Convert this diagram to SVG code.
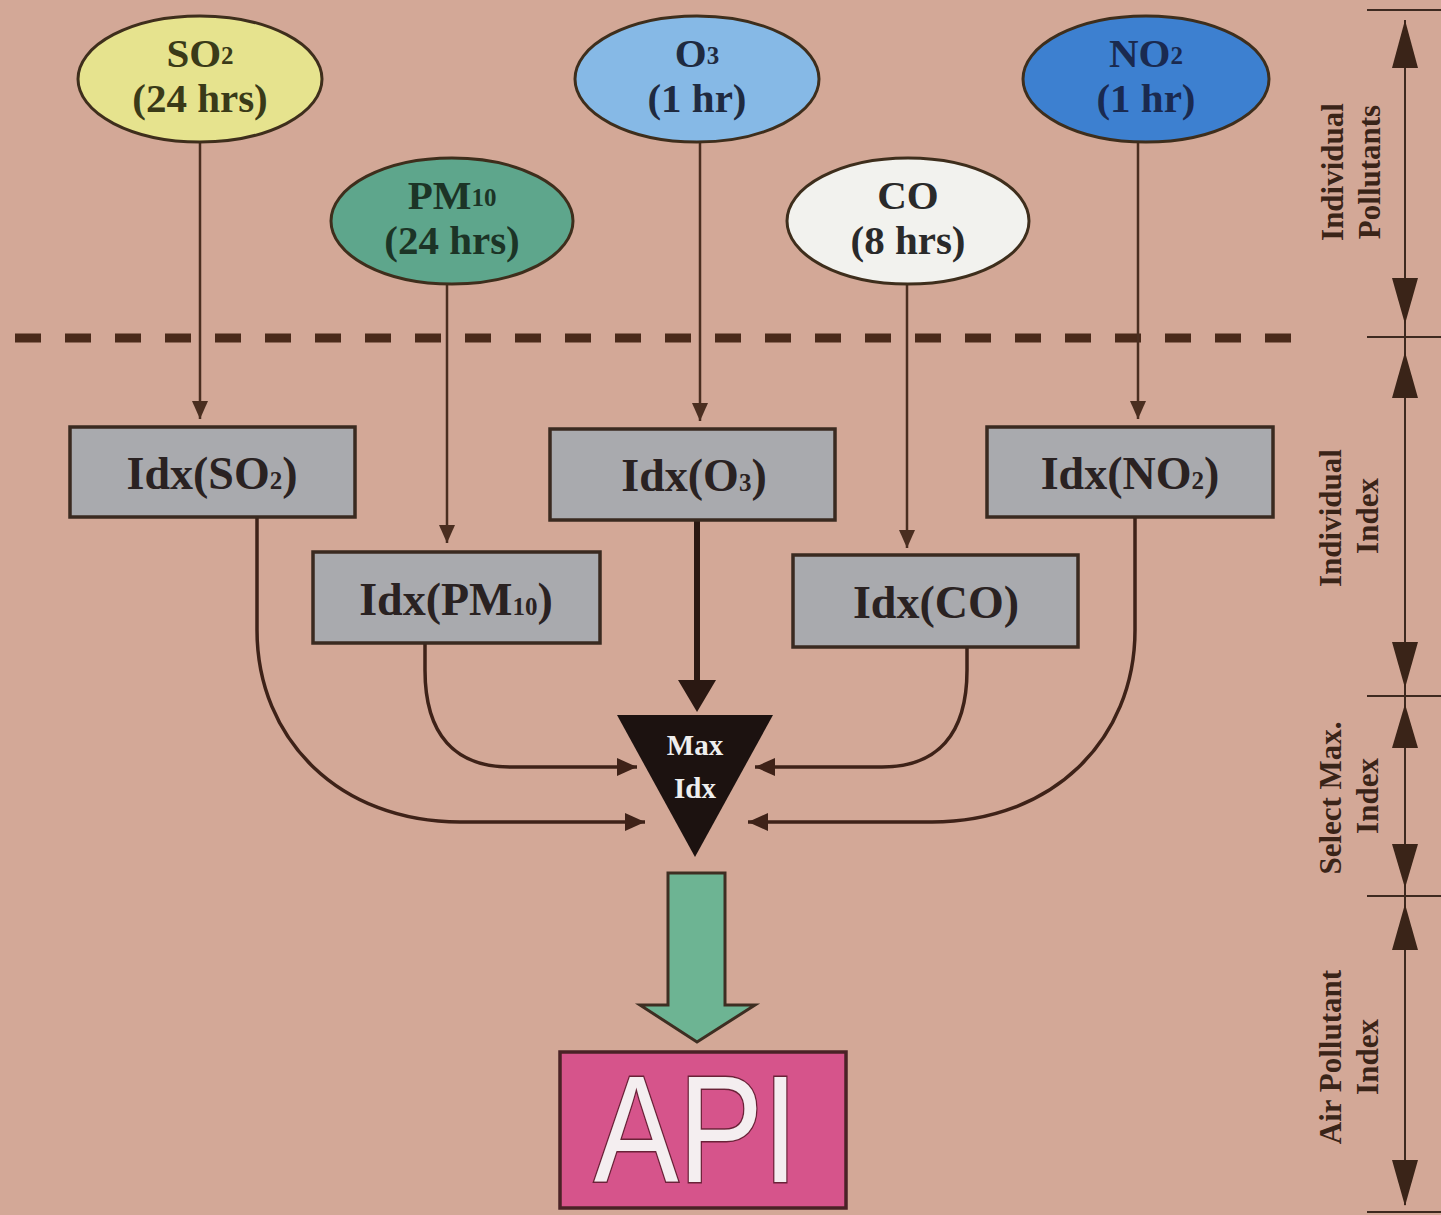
<svg xmlns="http://www.w3.org/2000/svg" width="1441" height="1215" viewBox="0 0 1441 1215">
<defs>
<style>
.bg{fill:#d3a897}
.ell{stroke:#3e2e1c;stroke-width:3}
.etxt{font-family:"Liberation Serif","Times New Roman",serif;font-weight:bold;font-size:41px;text-anchor:middle}
.box{fill:#a9aaae;stroke:#3a2a20;stroke-width:3.5}
.btxt{font-family:"Liberation Serif","Times New Roman",serif;font-weight:bold;font-size:46px;text-anchor:middle;fill:#2a2222}
.sub{font-size:25px}
.thin{fill:none;stroke:#4a2e20;stroke-width:2.5}
.curve{fill:none;stroke:#3e2218;stroke-width:3.5}
.lab{font-family:"Liberation Serif","Times New Roman",serif;font-weight:bold;font-size:31px;text-anchor:middle;fill:#3a2418}
.scale{stroke:#3e2a20;stroke-width:2;fill:none}
.head{fill:#3a2418}
</style>
<marker id="arr" markerUnits="userSpaceOnUse" markerWidth="18" markerHeight="18" refX="18" refY="8" orient="auto">
<path d="M0,0 L18,8 L0,16 z" fill="#4a2e20"/>
</marker>
<marker id="arrc" markerUnits="userSpaceOnUse" markerWidth="22" markerHeight="20" refX="20" refY="9" orient="auto">
<path d="M0,0 L20,9 L0,18 z" fill="#3e2218"/>
</marker>
</defs>
<rect class="bg" x="0" y="0" width="1441" height="1215"/>

<g id="divider">
<line x1="15" y1="338" x2="1292" y2="338" stroke="#4a2a1a" stroke-width="9" stroke-dasharray="26 24"/>
</g>

<g id="connectors">
<line class="thin" x1="200" y1="142" x2="200" y2="419" marker-end="url(#arr)"/>
<line class="thin" x1="447" y1="285" x2="447" y2="543" marker-end="url(#arr)"/>
<line class="thin" x1="700" y1="142" x2="700" y2="421" marker-end="url(#arr)"/>
<line class="thin" x1="907" y1="285" x2="907" y2="548" marker-end="url(#arr)"/>
<line class="thin" x1="1138" y1="142" x2="1138" y2="419" marker-end="url(#arr)"/>
<line x1="697" y1="520" x2="697" y2="684" stroke="#2a1812" stroke-width="6"/>
<polygon points="678,680 716,680 697,712" fill="#2a1812"/>
<path class="curve" d="M257,517 V630 C257,740 340,822 460,822 H645" marker-end="url(#arrc)"/>
<path class="curve" d="M425,643 V670 C425,735 455,767 510,767 H637" marker-end="url(#arrc)"/>
<path class="curve" d="M967,647 V670 C967,735 937,767 882,767 H755" marker-end="url(#arrc)"/>
<path class="curve" d="M1135,517 V630 C1135,740 1052,822 932,822 H748" marker-end="url(#arrc)"/>
</g>

<g id="so2">
<ellipse class="ell" cx="200" cy="79" rx="122" ry="63" fill="#e6e38e"/>
<text class="etxt" fill="#3a3a18" x="200" y="67">SO<tspan class="sub" dy="-3">2</tspan></text>
<text class="etxt" fill="#3a3a18" x="200" y="112">(24 hrs)</text>
</g>
<g id="pm10">
<ellipse class="ell" cx="452" cy="221" rx="121" ry="63" fill="#5ea68c"/>
<text class="etxt" fill="#1c3426" x="452" y="209">PM<tspan class="sub" dy="-3">10</tspan></text>
<text class="etxt" fill="#1c3426" x="452" y="254">(24 hrs)</text>
</g>
<g id="o3">
<ellipse class="ell" cx="697" cy="79" rx="122" ry="63" fill="#86b9e6"/>
<text class="etxt" fill="#1f2a40" x="697" y="67">O<tspan class="sub" dy="-3">3</tspan></text>
<text class="etxt" fill="#1f2a40" x="697" y="112">(1 hr)</text>
</g>
<g id="co">
<ellipse class="ell" cx="908" cy="221" rx="121" ry="63" fill="#f2f2ee"/>
<text class="etxt" fill="#2a2a2a" x="908" y="209">CO</text>
<text class="etxt" fill="#2a2a2a" x="908" y="254">(8 hrs)</text>
</g>
<g id="no2">
<ellipse class="ell" cx="1146" cy="79" rx="123" ry="63" fill="#3d80d0"/>
<text class="etxt" fill="#1a2a50" x="1146" y="67">NO<tspan class="sub" dy="-3">2</tspan></text>
<text class="etxt" fill="#1a2a50" x="1146" y="112">(1 hr)</text>
</g>

<g id="idx-so2">
<rect class="box" x="70" y="427" width="285" height="90"/>
<text class="btxt" x="212" y="489">Idx(SO<tspan class="sub">2</tspan>)</text>
</g>
<g id="idx-pm10">
<rect class="box" x="313" y="552" width="287" height="91"/>
<text class="btxt" x="456" y="615">Idx(PM<tspan class="sub">10</tspan>)</text>
</g>
<g id="idx-o3">
<rect class="box" x="550" y="429" width="285" height="91"/>
<text class="btxt" x="694" y="491">Idx(O<tspan class="sub">3</tspan>)</text>
</g>
<g id="idx-co">
<rect class="box" x="793" y="555" width="285" height="92"/>
<text class="btxt" x="936" y="618">Idx(CO)</text>
</g>
<g id="idx-no2">
<rect class="box" x="987" y="427" width="286" height="90"/>
<text class="btxt" x="1130" y="489">Idx(NO<tspan class="sub">2</tspan>)</text>
</g>

<g id="max-idx">
<polygon points="617,715 773,715 695,857" fill="#1c1210"/>
<text x="695" y="755" font-family="Liberation Serif, serif" font-weight="bold" font-size="29" fill="#eeeeee" text-anchor="middle">Max</text>
<text x="695" y="798" font-family="Liberation Serif, serif" font-weight="bold" font-size="29" fill="#eeeeee" text-anchor="middle">Idx</text>
</g>

<g id="big-arrow">
<polygon points="668,873 725,873 725,1005 755,1005 697,1042 640,1005 668,1005" fill="#6db493" stroke="#3e2e22" stroke-width="3" stroke-linejoin="miter"/>
</g>

<g id="api">
<rect x="560" y="1052" width="286" height="156" fill="#d6548b" stroke="#4a2226" stroke-width="3.5"/>
<text x="594" y="1182" font-family="Liberation Sans, Arial, sans-serif" font-size="152" fill="#f4eef0" stroke="#6a2238" stroke-width="3" paint-order="stroke" textLength="204" lengthAdjust="spacingAndGlyphs">API</text>
</g>

<g id="scale">
<line class="scale" x1="1367" y1="10" x2="1441" y2="10"/>
<line class="scale" x1="1367" y1="337" x2="1441" y2="337"/>
<line class="scale" x1="1367" y1="696" x2="1441" y2="696"/>
<line class="scale" x1="1367" y1="896" x2="1441" y2="896"/>
<line class="scale" x1="1367" y1="1212" x2="1441" y2="1212"/>
<line class="scale" x1="1405" y1="20" x2="1405" y2="1205"/>
<polygon class="head" points="1405,20 1418,68 1392,68"/>
<polygon class="head" points="1405,324 1418,278 1392,278"/>
<polygon class="head" points="1405,352 1418,398 1392,398"/>
<polygon class="head" points="1405,688 1418,642 1392,642"/>
<polygon class="head" points="1405,704 1418,748 1392,748"/>
<polygon class="head" points="1405,888 1418,844 1392,844"/>
<polygon class="head" points="1405,904 1418,950 1392,950"/>
<polygon class="head" points="1405,1206 1418,1160 1392,1160"/>
<text class="lab" transform="translate(1343,172) rotate(-90)">Individual</text>
<text class="lab" transform="translate(1380,172) rotate(-90)">Pollutants</text>
<text class="lab" transform="translate(1341,518) rotate(-90)">Individual</text>
<text class="lab" transform="translate(1378,516) rotate(-90)">Index</text>
<text class="lab" transform="translate(1341,798) rotate(-90)">Select Max.</text>
<text class="lab" transform="translate(1378,796) rotate(-90)">Index</text>
<text class="lab" transform="translate(1341,1057) rotate(-90)">Air Pollutant</text>
<text class="lab" transform="translate(1378,1057) rotate(-90)">Index</text>
</g>
</svg>
